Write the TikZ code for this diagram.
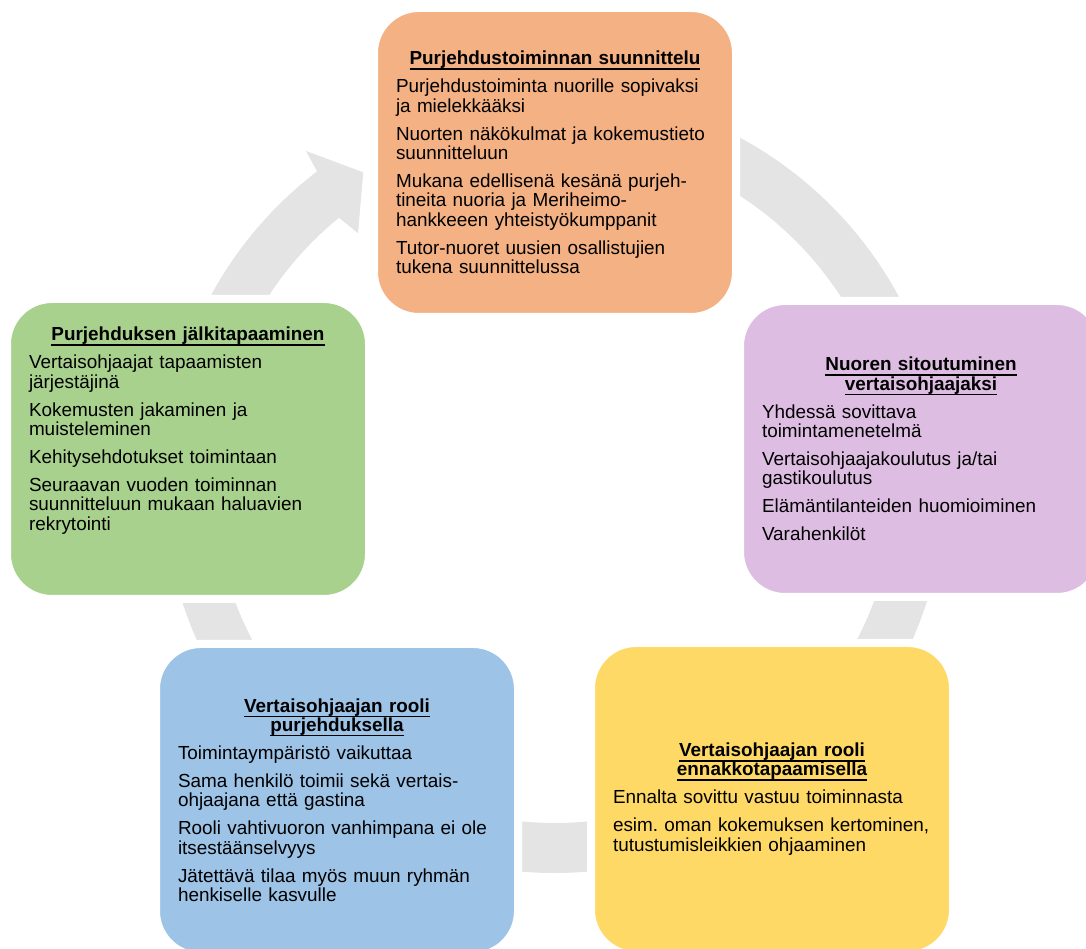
\documentclass[tikz,border=0pt]{standalone}
\usepackage{fontspec}
\setmainfont{Liberation Sans}
\usepackage{tikz}
\usetikzlibrary{calc}

\definecolor{oranssi}{HTML}{F4B183}
\definecolor{vihrea}{HTML}{A9D18E}
\definecolor{lila}{HTML}{DEBDE3}
\definecolor{sininen}{HTML}{9DC3E6}
\definecolor{keltainen}{HTML}{FFD966}
\definecolor{harmaa}{HTML}{E4E4E4}

\newcommand\alleviivaa[1]{\leavevmode\setbox0\hbox{#1}\rlap{\rule[-5pt]{\wd0}{1.5pt}}\box0}

\begin{document}
\begin{tikzpicture}[
	x=1pt, y=1pt,
	vaihe/.style={
		rectangle,
		rounded corners=45pt,
		draw=white,
		line width=8pt,
		text width=318pt,
		inner xsep=22pt,
		inner ysep=0pt,
		minimum width=362pt,
		align=left,
		text=black,
		font=\fontsize{18.9}{19.3}\selectfont,
		execute at begin node={\setlength\parskip{8.7pt}\hyphenpenalty=10000}
		},
	kaari/.style={
		fill=harmaa
	}
]
\useasboundingbox (0,0) rectangle (1086,948);

% Kehä
\coordinate (K) at (554.5,466);
\fill [kaari] ($(K)+(90:391)$) arc [start angle=90, end angle=-232.6, radius=391]
	-- ($(K)+(126.9:414)$) -- ($(K)+(121.7:364)$) -- ($(K)+(128.3:317)$)
	-- ($(K)+(-230.8:341)$) arc [start angle=-230.8, end angle=90, radius=341] -- cycle;

% Vaiheet
\node [vaihe, fill=oranssi, minimum height=309pt] (Suunnittelu) at (555,785.5) {
	{\centering\bfseries\alleviivaa{Purjehdustoiminnan suunnittelu}\par}
	Purjehdustoiminta nuorille sopivaksi\\ja mielekkääksi\par
	Nuorten näkökulmat ja kokemustieto\\suunnitteluun\par
	Mukana edellisenä kesänä purjeh-\\tineita nuoria ja Meriheimo-\\hankkeeen yhteistyökumppanit\par
	Tutor-nuoret uusien osallistujien\\tukena suunnittelussa};
\node [vaihe, fill=lila, minimum width=360pt, minimum height=296pt] (Sitoutuminen) at (921,499) {
	{\centering\bfseries\alleviivaa{Nuoren sitoutuminen}\\\alleviivaa{vertaisohjaajaksi}\par}
	Yhdessä sovittava\\toimintamenetelmä\par
	Vertaisohjaajakoulutus ja/tai\\gastikoulutus\par
	Elämäntilanteiden huomioiminen\par
	Varahenkilöt};
\node [vaihe, fill=keltainen, minimum width=360pt, minimum height=312pt] (Ennakko) at (772,149) {
	{\centering\bfseries\alleviivaa{Vertaisohjaajan rooli}\\\alleviivaa{ennakkotapaamisella}\par}
	Ennalta sovittu vastuu toiminnasta\par
	\mbox{esim.\ oman kokemuksen kertominen,}\\tutustumisleikkien ohjaaminen};
\node [vaihe, fill=sininen, minimum height=312pt] (Purjehdus) at (337,148) {
	{\centering\bfseries\alleviivaa{Vertaisohjaajan rooli}\\\alleviivaa{purjehduksella}\par}
	Toimintaympäristö vaikuttaa\par
	Sama henkilö toimii sekä vertais-\\ohjaajana että gastina\par
	Rooli vahtivuoron vanhimpana ei ole\\itsestäänselvyys\par
	Jätettävä tilaa myös muun ryhmän\\henkiselle kasvulle};
\node [vaihe, fill=vihrea, minimum width=360pt, minimum height=300pt] (Jalkitapaaminen) at (188,499) {
	{\centering\bfseries\alleviivaa{Purjehduksen jälkitapaaminen}\par}
	Vertaisohjaajat tapaamisten\\järjestäjinä\par
	Kokemusten jakaminen ja\\muisteleminen\par
	Kehitysehdotukset toimintaan\par
	Seuraavan vuoden toiminnan\\suunnitteluun mukaan haluavien\\rekrytointi\par
	\rule{0pt}{27pt}};

\end{tikzpicture}
\end{document}
